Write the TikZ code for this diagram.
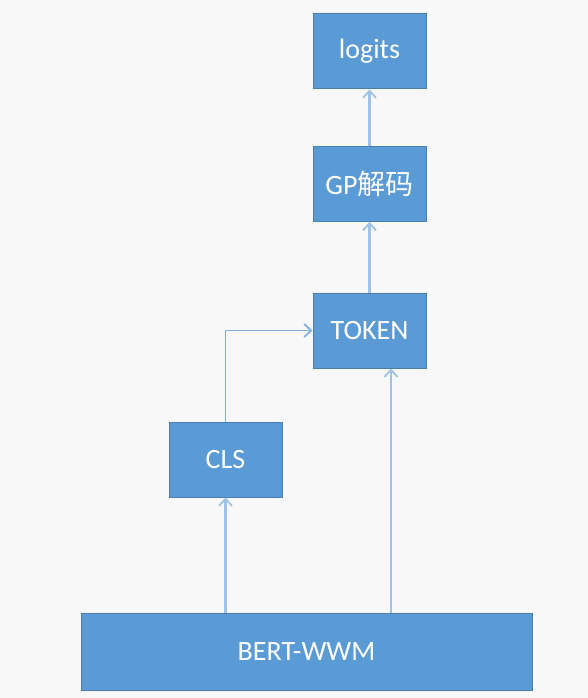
\documentclass[tikz,border=0pt]{standalone}
\usepackage{fontspec}
\setmainfont{Carlito}
\newfontfamily\cjkfont{Noto Sans CJK SC}
\usetikzlibrary{arrows.meta}

\definecolor{boxfill}{HTML}{5B9BD5}
\definecolor{boxedge}{HTML}{4A7EB0}
\definecolor{linkcol}{HTML}{9DC3E6}
\definecolor{elbowcol}{HTML}{7FAFDE}
\definecolor{pagebg}{HTML}{F8F8F8}

\tikzset{
  block/.style={draw=boxedge, fill=boxfill, line width=1pt,
    text=white, font=\fontsize{28}{32}\selectfont,
    minimum width=113pt, minimum height=75pt, inner sep=0pt},
  link/.style={draw=linkcol, line width=2.2pt,
    -{Straight Barb[length=7pt,width=13pt,line width=1.8pt]}}
}

\begin{document}
\begin{tikzpicture}[x=1pt, y=-1pt]

	% page
	\fill[pagebg] (0,0) rectangle (588,698);
	\useasboundingbox (0,0) rectangle (588,698);

	% blocks
	\node[block] (logits) at (369.5, 51.5) {logits};
	\node[block] (gp) at (369.5, 184) {GP{\cjkfont 解码}};
	\node[block] (token) at (369.5, 330.5) {TOKEN};
	\node[block] (cls) at (225.5, 459.5) {CLS};
	\node[block, minimum width=451pt, minimum height=77pt] (bert) at (306.5, 651.5) {BERT-WWM};

	% links
	\draw[link] (gp.north) -- (logits.south);
	\draw[link] (token.north) -- (gp.south);
	\draw[link] (bert.north -| cls.north) -- (cls.south);
	\draw[link] (bert.north -| 391, 0) -- (token.south -| 391, 0);
	\draw[link, draw=elbowcol, line width=1.6pt] (cls.north) |- (token.west);

\end{tikzpicture}
\end{document}
